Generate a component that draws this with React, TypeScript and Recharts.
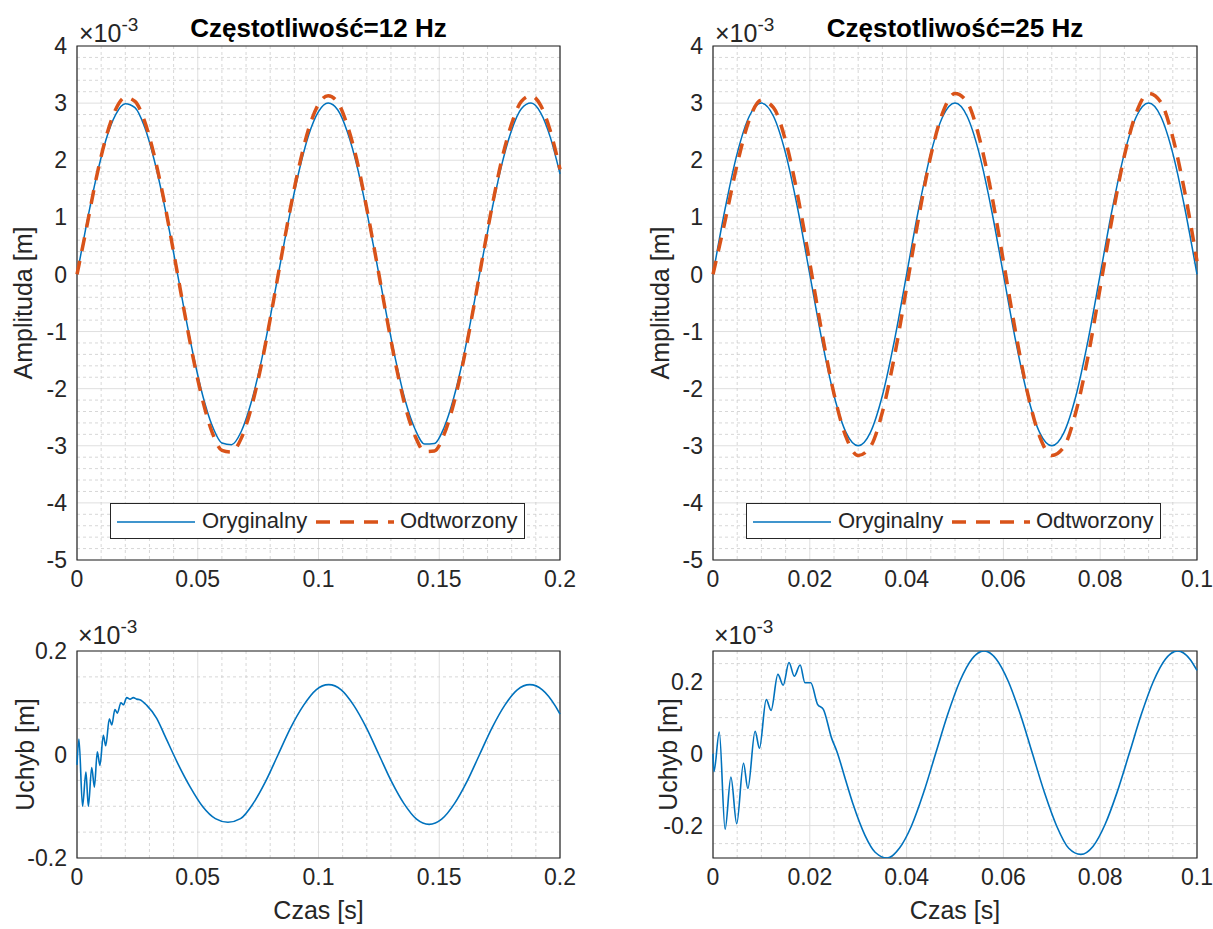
import React from "react";
import {
  LineChart,
  Line,
  XAxis,
  YAxis,
  CartesianGrid,
  ReferenceArea,
  Legend,
} from "recharts";

// ---- data (amplitudes in 1e-3 m) ----
const TIME_12 = [
  0, 0.004, 0.008, 0.012, 0.016, 0.02, 0.024, 0.028, 0.032, 0.036, 0.04,
  0.044, 0.048, 0.052, 0.056, 0.06, 0.064, 0.068, 0.072, 0.076, 0.08, 0.084,
  0.088, 0.092, 0.096, 0.1, 0.104, 0.108, 0.112, 0.116, 0.12, 0.124, 0.128,
  0.132, 0.136, 0.14, 0.144, 0.148, 0.152, 0.156, 0.16, 0.164, 0.168, 0.172,
  0.176, 0.18, 0.184, 0.188, 0.192, 0.196, 0.2,
];
const ORIG_12 = [
  0, 0.89, 1.7, 2.36, 2.8, 2.99, 2.92, 2.58, 2.0, 1.25, 0.38, -0.53, -1.38,
  -2.11, -2.65, -2.95, -2.98, -2.75, -2.26, -1.58, -0.75, 0.15, 1.03, 1.82,
  2.45, 2.85, 3.0, 2.88, 2.49, 1.89, 1.1, 0.23, -0.67, -1.51, -2.22, -2.71,
  -2.97, -2.96, -2.68, -2.16, -1.45, -0.6, 0.3, 1.17, 1.94, 2.53, 2.9, 3.0,
  2.83, 2.4, 1.76,
];
const RECON_12 = [
  0, 0.83, 1.69, 2.4, 2.89, 3.1, 3.03, 2.68, 2.08, 1.3, 0.39, -0.55, -1.44,
  -2.2, -2.77, -3.08, -3.11, -2.87, -2.36, -1.65, -0.78, 0.16, 1.08, 1.9,
  2.56, 2.98, 3.13, 3.01, 2.6, 1.98, 1.15, 0.24, -0.7, -1.58, -2.32, -2.83,
  -3.1, -3.09, -2.8, -2.26, -1.52, -0.63, 0.31, 1.22, 2.03, 2.64, 3.03, 3.13,
  2.96, 2.51, 1.84,
];
const ERR_TIME_12 = [
  0, 0.0008, 0.0023, 0.0037, 0.0047, 0.0061, 0.0072, 0.0084, 0.0095, 0.0109,
  0.0119, 0.0134, 0.0144, 0.0157, 0.0167, 0.0182, 0.0192, 0.0206, 0.022,
  0.0233, 0.0247, 0.026, 0.0289, 0.033, 0.0365, 0.0417, 0.0469, 0.0521,
  0.0573, 0.0625, 0.0677, 0.0729, 0.0781, 0.0833, 0.0885, 0.0938, 0.099,
  0.1042, 0.1094, 0.1146, 0.1198, 0.125, 0.1302, 0.1354, 0.1406, 0.1458,
  0.151, 0.1563, 0.1615, 0.1667, 0.1719, 0.1771, 0.1823, 0.1875, 0.1927,
  0.1979, 0.2,
];
const ERR_12 = [
  -0.02, 0.03, -0.1, -0.034, -0.1, -0.025, -0.063, 0.005, -0.021, 0.037,
  0.017, 0.069, 0.057, 0.087, 0.08, 0.1, 0.096, 0.11, 0.107, 0.11, 0.107,
  0.106, 0.095, 0.07, 0.035, -0.017, -0.063, -0.101, -0.124, -0.131, -0.124,
  -0.095, -0.052, 0, 0.052, 0.095, 0.125, 0.135, 0.125, 0.095, 0.052, 0,
  -0.052, -0.095, -0.125, -0.135, -0.125, -0.095, -0.052, 0, 0.052, 0.095,
  0.125, 0.135, 0.125, 0.095, 0.078,
];

const TIME_25 = [
  0, 0.0025, 0.005, 0.0075, 0.01, 0.0125, 0.015, 0.0175, 0.02, 0.0225, 0.025,
  0.0275, 0.03, 0.0325, 0.035, 0.0375, 0.04, 0.0425, 0.045, 0.0475, 0.05,
  0.0525, 0.055, 0.0575, 0.06, 0.0625, 0.065, 0.0675, 0.07, 0.0725, 0.075,
  0.0775, 0.08, 0.0825, 0.085, 0.0875, 0.09, 0.0925, 0.095, 0.0975, 0.1,
];
const ORIG_25 = [
  0, 1.15, 2.12, 2.77, 3.0, 2.77, 2.12, 1.15, 0, -1.15, -2.12, -2.77, -3.0,
  -2.77, -2.12, -1.15, 0, 1.15, 2.12, 2.77, 3.0, 2.77, 2.12, 1.15, 0, -1.15,
  -2.12, -2.77, -3.0, -2.77, -2.12, -1.15, 0, 1.15, 2.12, 2.77, 3.0, 2.77,
  2.12, 1.15, 0,
];
const RECON_25 = [
  0, 0.94, 1.93, 2.71, 3.05, 2.92, 2.34, 1.38, 0.2, -1.02, -2.09, -2.85,
  -3.17, -3.02, -2.41, -1.43, -0.23, 1.0, 2.08, 2.84, 3.17, 3.02, 2.4, 1.43,
  0.23, -1.0, -2.08, -2.84, -3.17, -3.02, -2.4, -1.43, -0.23, 1.0, 2.08, 2.84,
  3.17, 3.02, 2.4, 1.43, 0.23,
];
const ERR_TIME_25 = [
  0, 0.0002, 0.0013, 0.0025, 0.0037, 0.0049, 0.0063, 0.0072, 0.0087, 0.0096,
  0.011, 0.012, 0.0134, 0.0145, 0.0157, 0.0168, 0.018, 0.019, 0.0202, 0.0216,
  0.0228, 0.0245, 0.0256, 0.0273, 0.029, 0.0314, 0.0335, 0.036, 0.0385, 0.041,
  0.0435, 0.046, 0.0485, 0.051, 0.0535, 0.056, 0.0585, 0.061, 0.0635, 0.066,
  0.0685, 0.071, 0.0735, 0.076, 0.0785, 0.081, 0.0835, 0.086, 0.0885, 0.091,
  0.0935, 0.096, 0.0985, 0.1,
];
const ERR_25 = [
  0, -0.05, 0.06, -0.21, -0.065, -0.195, -0.027, -0.097, 0.062, 0.015, 0.15,
  0.12, 0.22, 0.19, 0.253, 0.215, 0.246, 0.197, 0.197, 0.137, 0.123, 0.043,
  0.006, -0.069, -0.143, -0.227, -0.274, -0.29, -0.263, -0.201, -0.109, 0,
  0.109, 0.201, 0.263, 0.285, 0.263, 0.201, 0.109, 0, -0.109, -0.201, -0.263,
  -0.28, -0.258, -0.197, -0.107, 0, 0.109, 0.201, 0.263, 0.285, 0.263, 0.231,
];

const X_TICKS_12 = [0, 0.05, 0.1, 0.15, 0.2];
const X_TICKS_25 = [0, 0.02, 0.04, 0.06, 0.08, 0.1];
const Y_TICKS_TOP = [-5, -4, -3, -2, -1, 0, 1, 2, 3, 4];
const Y_TICKS_ERR = [-0.2, 0, 0.2];

const SERIES_NAMES = ["Oryginalny", "Odtworzony"];
const TITLES = ["Częstotliwość=12 Hz", "Częstotliwość=25 Hz"];

// ---- style ----
const BLUE = "#0072BD";
const ORANGE = "#D95319";
const INK = "#262626";
const FONT = '"Liberation Sans", Arial, Helvetica, sans-serif';
const TICK = { fill: INK, fontSize: 23, fontFamily: FONT };

// minor grid values between the major ones
function minorValues(lo: number, hi: number, step: number, major: number) {
  const out: number[] = [];
  const n = Math.round((hi - lo) / step);
  for (let i = 0; i <= n; i++) {
    const v = +(lo + i * step).toFixed(6);
    const r = v / major;
    if (Math.abs(r - Math.round(r)) > 1e-6) out.push(v);
  }
  return out;
}

const rows12 = TIME_12.map((t, i) => ({ t, orig: ORIG_12[i], recon: RECON_12[i] }));
const rows25 = TIME_25.map((t, i) => ({ t, orig: ORIG_25[i], recon: RECON_25[i] }));
const errRows12 = ERR_TIME_12.map((t, i) => ({ t, err: ERR_12[i] }));
const errRows25 = ERR_TIME_25.map((t, i) => ({ t, err: ERR_25[i] }));

const yLabel = (text: string, dx: number) => (props: any) => {
  const vb = props.viewBox || {};
  const cx = (vb.x || 0) + dx;
  const cy = vb.y + vb.height / 2;
  return (
    <text
      x={cx}
      y={cy}
      transform={`rotate(-90, ${cx}, ${cy})`}
      textAnchor="middle"
      dominantBaseline="central"
      fill={INK}
      fontSize={25}
      fontFamily={FONT}
    >
      {text}
    </text>
  );
};

const xLabel = (text: string) => (props: any) => {
  const vb = props.viewBox || {};
  return (
    <text
      x={vb.x + vb.width / 2}
      y={vb.y + 61}
      textAnchor="middle"
      fill={INK}
      fontSize={25}
      fontFamily={FONT}
    >
      {text}
    </text>
  );
};

function Exponent({ x, y }: { x: number; y: number }) {
  return (
    <text x={x} y={y} fill={INK} fontSize={25} fontFamily={FONT}>
      ×10
      <tspan dy={-11} fontSize={19}>
        -3
      </tspan>
    </text>
  );
}

function LegendBox(props: any) {
  const payload = props.payload || [];
  const items = SERIES_NAMES.map((n) => payload.find((p: any) => p.value === n)).filter(Boolean);
  return (
    <div
      style={{
        position: "relative",
        width: 415,
        height: 36,
        boxSizing: "border-box",
        border: `1.3px solid ${INK}`,
        background: "#fff",
        fontFamily: FONT,
        fontSize: 22,
        color: INK,
      }}
    >
      {items.map((it: any, i: number) => (
        <React.Fragment key={it.value}>
          <svg
            width={80}
            height={20}
            style={{ position: "absolute", left: 6 + i * 199, top: 8 }}
          >
            <line
              x1={0}
              x2={78}
              y1={10}
              y2={10}
              stroke={it.color}
              strokeWidth={i === 0 ? 1.5 : 3.5}
              strokeDasharray={i === 0 ? undefined : "14 10"}
            />
          </svg>
          <span
            style={{
              position: "absolute",
              left: 91 + i * 198,
              top: 3,
              lineHeight: "28px",
              whiteSpace: "nowrap",
            }}
          >
            {it.value}
          </span>
        </React.Fragment>
      ))}
    </div>
  );
}

function SignalPanel(props: {
  left: number;
  width: number;
  axisWidth: number;
  rightMargin: number;
  rows: any[];
  xMax: number;
  xTicks: number[];
  xMinor: number[];
  title: string;
  labelDx: number;
}) {
  const { left, width, axisWidth, rightMargin, rows, xMax, xTicks, xMinor } = props;
  const plotW = width - axisWidth - rightMargin;
  return (
    <div style={{ position: "absolute", left, top: 0 }}>
      <LineChart
        width={width}
        height={600}
        data={rows}
        margin={{ top: 46, right: rightMargin, bottom: 10, left: 0 }}
      >
        <CartesianGrid stroke="#dfdfdf" strokeWidth={1} />
        <CartesianGrid
          horizontalValues={minorValues(-5, 4, 0.2, 1)}
          verticalValues={xMinor}
          stroke="#cdcdcd"
          strokeDasharray="3 3"
          strokeWidth={0.8}
        />
        <XAxis
          type="number"
          dataKey="t"
          domain={[0, xMax]}
          ticks={xTicks}
          interval={0}
          height={30}
          tickSize={0}
          tickMargin={11}
          axisLine={false}
          tick={TICK}
        />
        <YAxis
          type="number"
          domain={[-5, 4]}
          ticks={Y_TICKS_TOP}
          interval={0}
          width={axisWidth}
          tickSize={0}
          tickMargin={10}
          axisLine={false}
          tick={TICK}
          label={{ content: yLabel("Amplituda [m]", props.labelDx) }}
        />
        <ReferenceArea
          x1={0}
          x2={xMax}
          y1={-5}
          y2={4}
          fill="none"
          stroke={INK}
          strokeWidth={1.2}
        />
        <Line
          name={SERIES_NAMES[0]}
          dataKey="orig"
          type="monotone"
          stroke={BLUE}
          strokeWidth={1.5}
          dot={false}
          activeDot={false}
          isAnimationActive={false}
        />
        <Line
          name={SERIES_NAMES[1]}
          dataKey="recon"
          type="monotone"
          stroke={ORANGE}
          strokeWidth={3.5}
          strokeDasharray="14 10"
          dot={false}
          activeDot={false}
          isAnimationActive={false}
        />
        <Legend
          layout="horizontal"
          verticalAlign="middle"
          align="center"
          content={<LegendBox />}
          wrapperStyle={{ left: axisWidth + 33, top: 503, width: 415, height: 36 }}
        />
        <text
          x={axisWidth + plotW / 2}
          y={37}
          textAnchor="middle"
          fill="#000"
          fontSize={26}
          fontWeight="bold"
          fontFamily={FONT}
        >
          {props.title}
        </text>
        <Exponent x={axisWidth + 2} y={42} />
      </LineChart>
    </div>
  );
}

function ErrorPanel(props: {
  left: number;
  width: number;
  axisWidth: number;
  rightMargin: number;
  rows: any[];
  xMax: number;
  xTicks: number[];
  xMinor: number[];
  yDomain: [number, number];
  yMinor: number[];
  labelDx: number;
}) {
  const { left, width, axisWidth, rightMargin, rows, xMax, xTicks, xMinor, yDomain } = props;
  return (
    <div style={{ position: "absolute", left, top: 600 }}>
      <LineChart
        width={width}
        height={329}
        data={rows}
        margin={{ top: 51, right: rightMargin, bottom: 0, left: 0 }}
      >
        <CartesianGrid stroke="#dfdfdf" strokeWidth={1} />
        <CartesianGrid
          horizontalValues={props.yMinor}
          verticalValues={xMinor}
          stroke="#cdcdcd"
          strokeDasharray="3 3"
          strokeWidth={0.8}
        />
        <XAxis
          type="number"
          dataKey="t"
          domain={[0, xMax]}
          ticks={xTicks}
          interval={0}
          height={71}
          tickSize={0}
          tickMargin={11}
          axisLine={false}
          tick={TICK}
          label={{ content: xLabel("Czas [s]") }}
        />
        <YAxis
          type="number"
          domain={yDomain}
          ticks={Y_TICKS_ERR}
          interval={0}
          width={axisWidth}
          tickSize={0}
          tickMargin={10}
          axisLine={false}
          tick={TICK}
          allowDataOverflow
          label={{ content: yLabel("Uchyb [m]", props.labelDx) }}
        />
        <ReferenceArea
          x1={0}
          x2={xMax}
          y1={yDomain[0]}
          y2={yDomain[1]}
          fill="none"
          stroke={INK}
          strokeWidth={1.2}
        />
        <Line
          dataKey="err"
          type="monotone"
          stroke={BLUE}
          strokeWidth={1.6}
          dot={false}
          activeDot={false}
          isAnimationActive={false}
        />
        <Exponent x={axisWidth + 1} y={44} />
      </LineChart>
    </div>
  );
}

export default function App() {
  return (
    <div
      style={{
        position: "absolute",
        left: 0,
        top: 0,
        width: 1213,
        height: 929,
        background: "#fff",
        overflow: "hidden",
      }}
    >
      <SignalPanel
        left={0}
        width={600}
        axisWidth={77}
        rightMargin={40}
        rows={rows12}
        xMax={0.2}
        xTicks={X_TICKS_12}
        xMinor={minorValues(0, 0.2, 0.01, 0.05)}
        title={TITLES[0]}
        labelDx={23}
      />
      <SignalPanel
        left={600}
        width={613}
        axisWidth={113}
        rightMargin={16}
        rows={rows25}
        xMax={0.1}
        xTicks={X_TICKS_25}
        xMinor={minorValues(0, 0.1, 0.005, 0.02)}
        title={TITLES[1]}
        labelDx={60}
      />
      <ErrorPanel
        left={0}
        width={600}
        axisWidth={77}
        rightMargin={40}
        rows={errRows12}
        xMax={0.2}
        xTicks={X_TICKS_12}
        xMinor={minorValues(0, 0.2, 0.01, 0.05)}
        yDomain={[-0.2, 0.2]}
        yMinor={minorValues(-0.2, 0.2, 0.05, 0.2)}
        labelDx={25}
      />
      <ErrorPanel
        left={600}
        width={613}
        axisWidth={113}
        rightMargin={16}
        rows={errRows25}
        xMax={0.1}
        xTicks={X_TICKS_25}
        xMinor={minorValues(0, 0.1, 0.005, 0.02)}
        yDomain={[-0.29, 0.285]}
        yMinor={minorValues(-0.25, 0.25, 0.05, 0.2)}
        labelDx={68}
      />
    </div>
  );
}
